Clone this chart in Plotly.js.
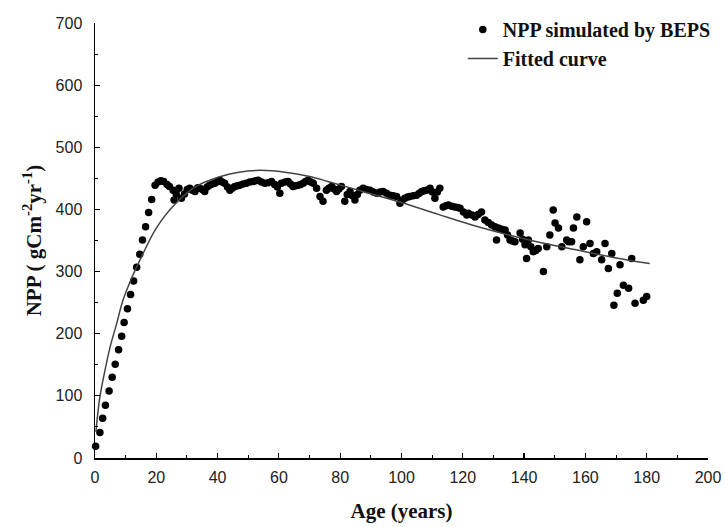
<!DOCTYPE html>
<html>
<head>
<meta charset="utf-8">
<script src="https://cdn.plot.ly/plotly-3.0.1.min.js"></script>
<style>html,body{margin:0;padding:0;background:#fff;}#chart{width:725px;height:527px;}</style>
</head>
<body>
<div id="chart"></div>
<script>
// Scatter: NPP simulated by BEPS
const ages = [0.2,1.6,2.5,3.4,4.6,5.6,6.6,7.7,8.7,9.5,10.6,11.6,12.6,13.6,14.6,15.5,16.5,17.5,18.5,19.6,
20.6,21.5,22.4,23.5,24.3,25.5,25.8,26.5,27.4,28.2,29.2,30.1,30.9,31.8,32.6,33.5,34.2,35,35.8,36.6,37.4,38.3,39.1,40,40.7,41.5,42.3,43.2,44,44.8,45.6,46.5,47.2,48.3,49.4,50.5,51.6,52.4,53.2,
54.3,55.4,56.5,57.6,58.6,59.5,60.3,60.8,62,63,63.8,64.6,65.5,66.3,67.1,67.9,68.7,69.5,70.4,71.2,72.3,73.4,74.4,75.5,76.3,77.2,78,78.8,79.6,80.4,81.5,82.3,83.2,84,84.8,85.6,86.4,
87.5,88.6,89.7,90.8,91.9,93,94,95.1,96.2,97.3,98.4,99.5,100.3,101.1,102,102.7,103.8,104.9,105.8,106.6,107.4,108.2,109.3,110.1,110.9,111.7,112.5,113.6,114.5,115.3,116.4,117.4,118.3,119.1,120.2,121.3,
121.8,123,124,125,126.1,127.2,128.3,129.4,130.5,131,131.6,132.7,133.8,134.6,135.4,136.2,137,138.7,139.5,140.3,140.8,141.4,142.2,143,143.8,144.6,146.3,147.4,148.4,149.5,150.1,151.2,152.3,153.9,154.5,155.5,156.1,
157.2,158.2,159.3,160.4,161.5,162.6,163.7,165.3,166.4,167.5,168.6,169.3,170.4,171.3,172.4,174.1,175.1,176.2,178.9,180];
const npp = [19,41,64,85,108,130,151,174,196,218,240,263,285,307,328,351,372,395,416,439,
444,446,445,440,437,431,415,425,434,418,425,432,434,431,429,435,434,432,429,436,439,441,442,445,447,444,442,436,431,434,437,438,439,441,442,444,445,446,447,
444,442,443,445,440,436,426,442,444,445,441,437,438,439,440,442,445,447,444,442,434,421,413,431,434,437,433,429,433,437,413,424,429,422,415,424,431,
434,432,431,428,426,428,429,426,423,422,421,410,415,418,420,421,422,423,426,429,430,431,434,428,418,428,434,404,406,407,405,404,403,402,396,391,
394,391,388,392,396,383,379,375,372,351,370,368,367,359,351,349,348,362,352,343,321,351,340,332,334,337,300,340,359,399,378,370,340,351,348,348,370,
388,319,340,380,345,329,332,319,345,305,329,246,265,311,278,273,321,249,254,260];

// Fitted curve
const fitAges = [0.3,1.5,3,5,7,9,12,15,20,26,33,41,47,54,62,70,76,88,100,112,123,135,146,160,170,181];
const fitNpp  = [42,95,135,180,215,252,290,322,370,408,437,453,460,463,460,453,445,428,411,392,375,359,346,332,322,313];

// Labels
const seriesName = 'NPP simulated by BEPS';
const fitName = 'Fitted curve';
const xTitle = 'Age (years)';
const yTitle = 'NPP ( gCm<sup>-2</sup>yr<sup>-1</sup>)';

const serif = 'Liberation Serif, Times New Roman, serif';
const sans = 'Liberation Sans, Arial, sans-serif';

const traces = [
  {x: ages, y: npp, name: seriesName, type: 'scatter', mode: 'markers',
   marker: {color: '#000', size: 7.5}, cliponaxis: false},
  {x: fitAges, y: fitNpp, name: fitName, type: 'scatter', mode: 'lines',
   line: {color: '#444', width: 1.5, shape: 'spline', smoothing: 1}}
];

const axisCommon = {
  showline: true, linecolor: '#000', linewidth: 1.5, mirror: false,
  ticks: 'inside', ticklen: 5, tickwidth: 1.2, tickcolor: '#000',
  showgrid: false, zeroline: false, automargin: false,
  tickfont: {family: sans, size: 16, color: '#222'}
};

const layout = {
  width: 725, height: 527,
  margin: {l: 95, r: 17, t: 23, b: 69, autoexpand: false},
  paper_bgcolor: '#fff', plot_bgcolor: '#fff',
  showlegend: true,
  legend: {x: 0.6, xanchor: 'left', y: 1.03, yanchor: 'top',
    font: {family: serif, size: 20, color: '#111', weight: 700},
    bgcolor: 'rgba(0,0,0,0)', tracegroupgap: 0},
  xaxis: Object.assign({}, axisCommon, {
    range: [0, 200], dtick: 20, tick0: 0,
    minor: {ticks: 'inside', ticklen: 3, dtick: 10, tickcolor: '#000', tickwidth: 1},
    ticklabelstandoff: 4,
    title: {text: xTitle, font: {family: serif, size: 21, color: '#111', weight: 700}, standoff: 18}
  }),
  yaxis: Object.assign({}, axisCommon, {
    range: [0, 700], dtick: 100, tick0: 0,
    minor: {ticks: 'inside', ticklen: 3, dtick: 50, tickcolor: '#000', tickwidth: 1},
    ticklabelstandoff: 8,
    title: {text: yTitle, font: {family: serif, size: 21, color: '#111', weight: 700}, standoff: 8}
  })
};

Plotly.newPlot('chart', traces, layout, {staticPlot: true, displayModeBar: false});
</script>
</body>
</html>
